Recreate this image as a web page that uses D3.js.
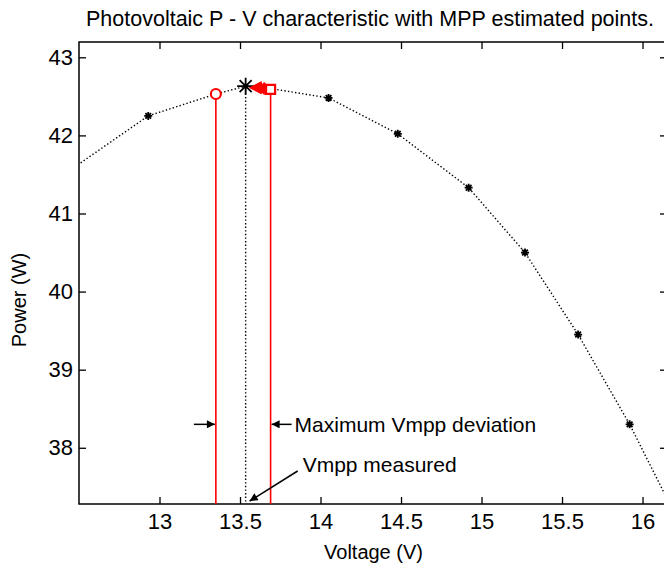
<!DOCTYPE html>
<html>
<head>
<meta charset="utf-8">
<script src="https://cdn.jsdelivr.net/npm/d3@7"></script>
<style>
  body { margin: 0; background: #fff; }
  text { font-family: "Liberation Sans", Arial, sans-serif; fill: #000; }
</style>
</head>
<body>
<div class="chart-container"></div>
<script>
const width = 664;
const height = 564;
const box = { left: 79, right: 667, top: 42, bottom: 504 };

// measured P-V curve (dotted)
const curveVoltage = [12.40, 12.93, 13.35, 13.535, 13.69, 14.05, 14.48, 14.92, 15.27, 15.60, 15.92, 16.22];
const curvePower   = [41.49, 42.25, 42.53, 42.63, 42.60, 42.48, 42.02, 41.33, 40.50, 39.45, 38.30, 37.07];

// black "*" samples on the curve
const sampleVoltage = [12.93, 14.05, 14.48, 14.92, 15.27, 15.60, 15.92];
const samplePower   = [42.25, 42.48, 42.02, 41.33, 40.50, 39.45, 38.30];

// measured MPP
const mppVoltage = 13.535;
const mppPower = 42.63;

// estimated MPP points (red)
const estVoltage = [13.35, 13.60, 13.63, 13.65, 13.69];
const estPower   = [42.53, 42.61, 42.61, 42.60, 42.59];
const estShape   = ["circle", "triangle", "star", "diamond", "square"];

const xTicks = [13, 13.5, 14, 14.5, 15, 15.5, 16];
const yTicks = [38, 39, 40, 41, 42, 43];

const svg = d3.select(".chart-container")
              .append("svg")
              .attr("width", width)
              .attr("height", height)
              .style("background", "#fff");

const escalaX = d3.scaleLinear()
                  .domain([12.5, 16.152])
                  .range([box.left, box.right]);

const escalaY = d3.scaleLinear()
                  .domain([37.28, 43.196])
                  .range([box.bottom, box.top]);

svg.append("clipPath")
   .attr("id", "clip")
   .append("rect")
   .attr("x", box.left)
   .attr("y", box.top)
   .attr("width", box.right - box.left)
   .attr("height", box.bottom - box.top);

const defs = svg.append("defs");
defs.append("marker")
    .attr("id", "head")
    .attr("viewBox", "0 0 10 10")
    .attr("refX", 10)
    .attr("refY", 5)
    .attr("markerUnits", "userSpaceOnUse")
    .attr("markerWidth", 11)
    .attr("markerHeight", 8)
    .attr("orient", "auto")
    .append("path")
    .attr("d", "M0,0L10,5L0,10z")
    .attr("fill", "#000");

// axes, ticks pointing inwards
const ejeX = d3.axisBottom(escalaX).tickValues(xTicks).tickSizeInner(-7).tickSizeOuter(0).tickPadding(9)
               .tickFormat(d3.format("~g"));
const ejeXTop = d3.axisTop(escalaX).tickValues(xTicks).tickSizeInner(-7).tickSizeOuter(0).tickFormat("");
const ejeY = d3.axisLeft(escalaY).tickValues(yTicks).tickSizeInner(-7).tickSizeOuter(0).tickPadding(6)
               .tickFormat(d3.format("d"));
const ejeYRight = d3.axisRight(escalaY).tickValues(yTicks).tickSizeInner(-7).tickSizeOuter(0).tickFormat("");

function styleAxis(g) {
    g.select(".domain").remove();
    g.selectAll("line").attr("stroke", "#000").attr("stroke-width", 1.3);
    g.selectAll("text").attr("font-size", 22).attr("font-family", "Liberation Sans, Arial, sans-serif").attr("fill", "#000");
}

svg.append("g").attr("transform", `translate(0, ${box.bottom})`).call(ejeX).call(styleAxis);
svg.append("g").attr("transform", `translate(0, ${box.top})`).call(ejeXTop).call(styleAxis);
svg.append("g").attr("transform", `translate(${box.left}, 0)`).call(ejeY).call(styleAxis);
svg.append("g").attr("transform", `translate(${box.right}, 0)`).call(ejeYRight).call(styleAxis);

svg.append("rect")
   .attr("x", box.left)
   .attr("y", box.top)
   .attr("width", box.right - box.left)
   .attr("height", box.bottom - box.top)
   .attr("fill", "none")
   .attr("stroke", "#000")
   .attr("stroke-width", 1.5);

const plotArea = svg.append("g").attr("clip-path", "url(#clip)");

// red deviation limits
const estMin = d3.min(estVoltage);
const estMax = d3.max(estVoltage);
[estMin, estMax].forEach((v) => {
    const i = estVoltage.indexOf(v);
    plotArea.append("line")
            .attr("x1", escalaX(v)).attr("x2", escalaX(v))
            .attr("y1", escalaY(estPower[i])).attr("y2", box.bottom)
            .attr("stroke", "#ff0000")
            .attr("stroke-width", 1.6);
});

// measured Vmpp (dotted)
plotArea.append("line")
        .attr("x1", escalaX(mppVoltage)).attr("x2", escalaX(mppVoltage))
        .attr("y1", escalaY(mppPower)).attr("y2", box.bottom)
        .attr("stroke", "#000")
        .attr("stroke-width", 1.4)
        .attr("stroke-dasharray", "1.4,2.2");

const line = d3.line()
               .x((d, i) => escalaX(curveVoltage[i]))
               .y((d, i) => escalaY(curvePower[i]));

plotArea.append("path")
        .datum(curveVoltage)
        .attr("d", line)
        .attr("fill", "none")
        .attr("stroke", "#000")
        .attr("stroke-width", 1.4)
        .attr("stroke-dasharray", "1.4,2.2");

function asterisk(r) {
    const d = r * 0.707;
    return `M${-r},0L${r},0M0,${-r}L0,${r}M${-d},${-d}L${d},${d}M${-d},${d}L${d},${-d}`;
}

plotArea.selectAll(".sample")
        .data(sampleVoltage)
        .join("path")
        .attr("class", "sample")
        .attr("transform", (d, i) => `translate(${escalaX(d)}, ${escalaY(samplePower[i])})`)
        .attr("d", asterisk(4))
        .attr("stroke", "#000")
        .attr("stroke-width", 1.8)
        .attr("fill", "none");

plotArea.append("path")
        .attr("transform", `translate(${escalaX(mppVoltage)}, ${escalaY(mppPower)})`)
        .attr("d", asterisk(8.5))
        .attr("stroke", "#000")
        .attr("stroke-width", 1.8)
        .attr("fill", "none");

const shapes = {
    circle: "M5,0A5,5 0 1,1 -5,0A5,5 0 1,1 5,0Z",
    triangle: "M-5,0L4.5,-5L4.5,5Z",
    star: asterisk(5),
    diamond: "M0,-5L5,0L0,5L-5,0Z",
    square: "M-4.5,-4.5L4.5,-4.5L4.5,4.5L-4.5,4.5Z"
};

plotArea.selectAll(".est")
        .data(estVoltage)
        .join("path")
        .attr("class", "est")
        .attr("transform", (d, i) => `translate(${escalaX(d)}, ${escalaY(estPower[i])})`)
        .attr("d", (d, i) => shapes[estShape[i]])
        .attr("stroke", "#ff0000")
        .attr("stroke-width", 2.2)
        .attr("fill", (d, i) => estShape[i] === "triangle" || estShape[i] === "diamond" ? "#ff0000" : "#fff");

// annotations
const arrowY = escalaY(38.3);
svg.append("line")
   .attr("x1", escalaX(estMin) - 22).attr("x2", escalaX(estMin) - 1)
   .attr("y1", arrowY).attr("y2", arrowY)
   .attr("stroke", "#000").attr("stroke-width", 1.5)
   .attr("marker-end", "url(#head)");

svg.append("line")
   .attr("x1", escalaX(estMax) + 21).attr("x2", escalaX(estMax) + 1)
   .attr("y1", arrowY).attr("y2", arrowY)
   .attr("stroke", "#000").attr("stroke-width", 1.5)
   .attr("marker-end", "url(#head)");

svg.append("text")
   .attr("x", escalaX(estMax) + 24)
   .attr("y", arrowY + 7.5)
   .attr("font-size", 21)
   .text("Maximum Vmpp deviation");

svg.append("line")
   .attr("x1", escalaX(mppVoltage) + 52).attr("x2", escalaX(mppVoltage) + 4)
   .attr("y1", box.bottom - 33).attr("y2", box.bottom - 3)
   .attr("stroke", "#000").attr("stroke-width", 1.5)
   .attr("marker-end", "url(#head)");

svg.append("text")
   .attr("x", escalaX(mppVoltage) + 57)
   .attr("y", box.bottom - 32)
   .attr("font-size", 21)
   .text("Vmpp measured");

svg.append("text")
   .attr("x", 370)
   .attr("y", 26)
   .attr("text-anchor", "middle")
   .attr("font-size", 21.5)
   .text("Photovoltaic P - V characteristic with MPP estimated points.");

svg.append("text")
   .attr("x", (box.left + 668) / 2)
   .attr("y", 559)
   .attr("text-anchor", "middle")
   .attr("font-size", 20)
   .text("Voltage (V)");

svg.append("text")
   .attr("transform", `translate(26, ${(box.top + box.bottom) / 2 + 27}) rotate(-90)`)
   .attr("text-anchor", "middle")
   .attr("font-size", 20)
   .text("Power (W)");
</script>
</body>
</html>
